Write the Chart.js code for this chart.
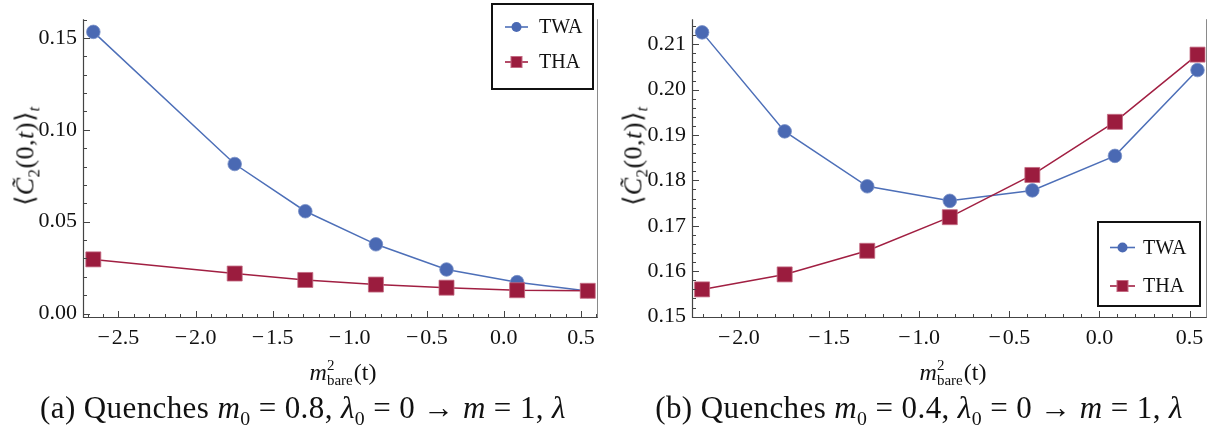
<!DOCTYPE html>
<html>
<head>
<meta charset="utf-8">
<script src="https://cdn.jsdelivr.net/npm/chart.js@4.4.1/dist/chart.umd.min.js"></script>
<style>
  html, body { margin: 0; padding: 0; background: #fff; }
  #wrap { position: relative; width: 1218px; height: 435px; overflow: hidden; background: #fff;
          font-family: 'Liberation Serif', 'Tinos', serif; color: #111; }
  .panel { position: absolute; top: 0; width: 609px; height: 392px; }
  .ytitle { position: absolute; font-size: 26px; letter-spacing: 0.5px; white-space: nowrap;
            transform: translate(-50%, -50%) rotate(-90deg); }
  .xtitle { position: absolute; font-size: 24px; white-space: nowrap; transform: translate(-50%, -50%); }
  .stack { display: inline-block; vertical-align: middle; line-height: 1; font-size: 15px;
           text-align: left; position: relative; top: -1px; margin-right: 1px; }
  .stack span { display: block; }
  .caption { position: absolute; top: 410px; font-size: 31px; letter-spacing: 0.4px; white-space: nowrap;
             transform: translate(-50%, -50%); }
  .caption sub, .ytitle sub { font-size: 64%; }
  i { font-style: italic; }
</style>
</head>
<body>
<div id="wrap">
  <div class="panel" style="left:0px"><canvas id="cA" width="609" height="392"></canvas></div>
  <div class="panel" style="left:609px"><canvas id="cB" width="609" height="392"></canvas></div>

  <div class="ytitle" style="left:27px; top:156px">⟨<i>C&#771;</i><sub>2</sub>(0,<i>t</i>)⟩<sub><i>t</i></sub></div>
  <div class="ytitle" style="left:635px; top:156px">⟨<i>C&#771;</i><sub>2</sub>(0,<i>t</i>)⟩<sub><i>t</i></sub></div>

  <div class="xtitle" style="left:343px; top:374px"><i>m</i><span class="stack"><span>2</span><span>bare</span></span>(t)</div>
  <div class="xtitle" style="left:953px; top:374px"><i>m</i><span class="stack"><span>2</span><span>bare</span></span>(t)</div>

  <div class="caption" style="left:303px">(a) Quenches <i>m</i><sub>0</sub> = 0.8, <i>λ</i><sub>0</sub> = 0 → <i>m</i> = 1, <i>λ</i></div>
  <div class="caption" style="left:919px">(b) Quenches <i>m</i><sub>0</sub> = 0.4, <i>λ</i><sub>0</sub> = 0 → <i>m</i> = 1, <i>λ</i></div>
</div>

<script>
// ---- data ----
const seriesNames = ['TWA', 'THA'];

// panel (a): m0 = 0.8
const xA = [-2.663, -1.746, -1.288, -0.830, -0.372, 0.086, 0.544];
const twaA = [0.1533, 0.0814, 0.0557, 0.0377, 0.0240, 0.0171, 0.0123];
const thaA = [0.0295, 0.0218, 0.0183, 0.0158, 0.0141, 0.0127, 0.0124];

// panel (b): m0 = 0.4
const xB = [-2.204, -1.746, -1.288, -0.830, -0.372, 0.086, 0.544];
const twaB = [0.2126, 0.1908, 0.1787, 0.1755, 0.1778, 0.1854, 0.2043];
const thaB = [0.1560, 0.1593, 0.1645, 0.1719, 0.1812, 0.1929, 0.2077];

// tick values
const xTicksA = [-2.5, -2.0, -1.5, -1.0, -0.5, 0.0, 0.5];
const yTicksA = [0.00, 0.05, 0.10, 0.15];
const xTicksB = [-2.0, -1.5, -1.0, -0.5, 0.0, 0.5];
const yTicksB = [0.15, 0.16, 0.17, 0.18, 0.19, 0.20, 0.21];

// ---- styling ----
const BLUE_LINE = '#4d6fb8';
const BLUE_FILL = '#4a69b3';
const BLUE_EDGE = '#7890c8';
const RED_LINE = '#a11f42';
const RED_FILL = '#9b1c3e';
const RED_EDGE = '#c36a82';
const FONT = "'Liberation Serif', 'Tinos', serif";

Chart.defaults.font.family = FONT;

function fmt(v, d) {
  const s = Math.abs(v).toFixed(d);
  return (v < -1e-9 ? '\u2212\u200a' : '') + s;
}

function zip(xs, ys) { return xs.map((x, i) => ({ x: x, y: ys[i] })); }

// inward frame ticks, left/bottom axes and the right frame edge
const frameTicks = {
  id: 'frameTicks',
  afterDraw(chart, args, opts) {
    const { ctx, chartArea: a, scales: { x, y } } = chart;
    ctx.save();
    ctx.lineWidth = 1;
    ctx.strokeStyle = '#8a8a8a';
    ctx.beginPath();
    ctx.moveTo(Math.round(a.right) - 0.5, a.top);
    ctx.lineTo(Math.round(a.right) - 0.5, a.bottom);
    ctx.stroke();

    ctx.strokeStyle = '#444';
    ctx.lineWidth = 1.2;
    ctx.beginPath();
    ctx.moveTo(a.left + 0.5, a.top);
    ctx.lineTo(a.left + 0.5, a.bottom);
    ctx.moveTo(a.left, a.bottom - 0.5);
    ctx.lineTo(a.right, a.bottom - 0.5);
    ctx.stroke();

    ctx.lineWidth = 1;
    ctx.beginPath();
    const isMajor = (v, list) => list.some(t => Math.abs(t - v) < 1e-6);
    let s = opts.xMinor;
    for (let v = Math.ceil(x.min / s) * s; v <= x.max + 1e-9; v += s) {
      const vv = Math.round(v / s) * s;
      const px = Math.round(x.getPixelForValue(vv)) + 0.5;
      const len = isMajor(vv, opts.xMajor) ? 7 : 4;
      ctx.moveTo(px, a.bottom);
      ctx.lineTo(px, a.bottom - len);
    }
    s = opts.yMinor;
    for (let v = Math.ceil(y.min / s) * s; v <= y.max + 1e-9; v += s) {
      const vv = Math.round(v / s) * s;
      const py = Math.round(y.getPixelForValue(vv)) + 0.5;
      const len = isMajor(vv, opts.yMajor) ? 7 : 4;
      ctx.moveTo(a.left, py);
      ctx.lineTo(a.left + len, py);
    }
    ctx.stroke();
    ctx.restore();
  }
};

// framed legend inside the plot area
const boxLegend = {
  id: 'boxLegend',
  afterDraw(chart, args, o) {
    const { ctx } = chart;
    ctx.save();
    ctx.fillStyle = '#fff';
    ctx.fillRect(o.left, o.top, o.width, o.height);
    ctx.lineWidth = 2;
    ctx.strokeStyle = '#111';
    ctx.strokeRect(o.left, o.top, o.width, o.height);
    chart.data.datasets.forEach((ds, i) => {
      const yy = o.top + o.rows[i];
      const x0 = o.left + o.lineX0, x1 = o.left + o.lineX1, cx = (x0 + x1) / 2;
      ctx.strokeStyle = ds.borderColor;
      ctx.lineWidth = 1.6;
      ctx.beginPath();
      ctx.moveTo(x0, yy); ctx.lineTo(x1, yy);
      ctx.stroke();
      ctx.fillStyle = ds.pointBackgroundColor;
      ctx.strokeStyle = ds.pointBorderColor;
      ctx.lineWidth = 1;
      if (ds.pointStyle === 'rect') {
        ctx.fillRect(cx - 5.5, yy - 5.5, 11, 11);
        ctx.strokeRect(cx - 5.5, yy - 5.5, 11, 11);
      } else {
        ctx.beginPath();
        ctx.arc(cx, yy, 5, 0, Math.PI * 2);
        ctx.fill();
      }
      ctx.fillStyle = '#111';
      ctx.font = '20px ' + FONT;
      ctx.textBaseline = 'middle';
      ctx.textAlign = 'left';
      ctx.fillText(ds.label, o.left + o.textX, yy + 1);
    });
    ctx.restore();
  }
};

function makePanel(canvasId, xs, twa, tha, xr, yr, xTicks, yTicks, xDec, yDec, yMinor, legendBox) {
  const datasets = [
    {
      label: seriesNames[0], data: zip(xs, twa), showLine: true,
      borderColor: BLUE_LINE, borderWidth: 1.5,
      pointStyle: 'circle', pointRadius: 6.8, pointBackgroundColor: BLUE_FILL,
      pointBorderColor: BLUE_EDGE, pointBorderWidth: 0.8, order: 1
    },
    {
      label: seriesNames[1], data: zip(xs, tha), showLine: true,
      borderColor: RED_LINE, borderWidth: 1.5,
      pointStyle: 'rect', pointRadius: 10.6, pointBackgroundColor: RED_FILL,
      pointBorderColor: RED_EDGE, pointBorderWidth: 0.8, order: 0
    }
  ];
  return new Chart(document.getElementById(canvasId), {
    type: 'scatter',
    data: { datasets },
    plugins: [frameTicks, boxLegend],
    options: {
      responsive: false,
      animation: false,
      events: [],
      clip: false,
      layout: { padding: { left: 0, right: 609 - 602, top: 0, bottom: 0 } },
      plugins: {
        legend: { display: false },
        tooltip: { enabled: false },
        frameTicks: { xMinor: 0.1, xMajor: xTicks, yMinor: yMinor, yMajor: yTicks },
        boxLegend: legendBox
      },
      scales: {
        x: {
          type: 'linear', min: xr[0], max: xr[1],
          grid: { display: false, drawTicks: false },
          border: { display: false },
          afterBuildTicks: (sc) => { sc.ticks = xTicks.map(v => ({ value: v })); },
          afterFit: (sc) => { sc.height = 392 - 318; },
          ticks: {
            padding: 7, color: '#111', maxRotation: 0, autoSkip: false,
            font: { family: FONT, size: 22 },
            callback: (v) => fmt(v, xDec)
          }
        },
        y: {
          type: 'linear', min: yr[0], max: yr[1],
          grid: { display: false, drawTicks: false },
          border: { display: false },
          afterBuildTicks: (sc) => { sc.ticks = yTicks.map(v => ({ value: v })); },
          afterFit: (sc) => { sc.width = 83; },
          ticks: {
            padding: 6, color: '#111', autoSkip: false,
            font: { family: FONT, size: 22 },
            callback: (v) => fmt(v, yDec)
          }
        }
      }
    }
  });
}

const charts = [
  makePanel('cA', xA, twaA, thaA, [-2.730, 0.608], [-0.0024, 0.1602],
    xTicksA, yTicksA, 1, 2, 0.01,
    { left: 492, top: 4, width: 101, height: 85, rows: [23, 58], lineX0: 13, lineX1: 36, textX: 47 }),
  makePanel('cB', xB, twaB, thaB, [-2.260, 0.5945], [0.1497, 0.2155],
    xTicksB, yTicksB, 1, 2, 0.002,
    { left: 489, top: 222, width: 102, height: 84, rows: [25.5, 64], lineX0: 12, lineX1: 37, textX: 45 })
];

// repaint once the serif face is ready so canvas text uses it
if (document.fonts && document.fonts.load) {
  Promise.all([
    document.fonts.load("22px 'Liberation Serif'"),
    document.fonts.load("italic 22px 'Liberation Serif'")
  ]).then(() => charts.forEach(c => c.update('none')));
}
</script>
</body>
</html>
